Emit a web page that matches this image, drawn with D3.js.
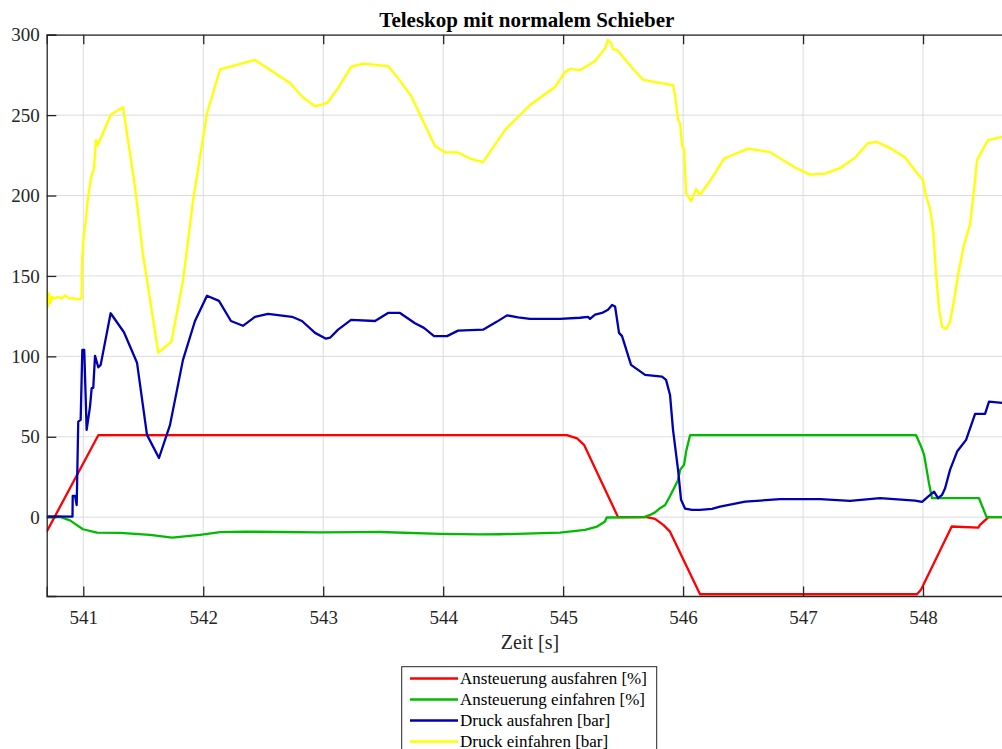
<!DOCTYPE html>
<html>
<head>
<meta charset="utf-8">
<script src="https://cdn.jsdelivr.net/npm/d3@7"></script>
<style>
  html, body { margin: 0; padding: 0; background: #fff; }
  svg { display: block; }
  svg text { font-family: "Liberation Serif", "Times New Roman", serif !important; }
</style>
</head>
<body>
<svg id="chart" width="1002" height="749"></svg>
<script>
// Zeitachse und Achsbeschriftungen
const xTicks = [541, 542, 543, 544, 545, 546, 547, 548];
const yTicks = [0, 50, 100, 150, 200, 250, 300];
const xDomain = [540.695, 548.7];
const yDomain = [-49, 300];

// Ansteuerung ausfahren [%]
const ausT = [540.695, 541.125, 545.032, 545.116, 545.174, 545.458, 545.697, 545.766, 545.835, 545.891, 546.141, 547.95, 547.984, 548.239, 548.461, 548.475, 548.53, 548.545, 548.7];
const ausV = [-9, 51, 51, 49, 45, 0, 0, -1, -4.8, -9, -47.9, -47.9, -45, -5.8, -6.5, -4.8, -1, 0, 0];

// Ansteuerung einfahren [%]
const einT = [540.695, 540.806, 540.889, 540.997, 541.114, 541.306, 541.556, 541.74, 541.973, 542.14, 542.348, 542.64, 542.973, 543.307, 543.474, 543.974, 544.307, 544.474, 544.974, 545.182, 545.283, 545.349, 545.363, 545.674, 545.725, 545.766, 545.808, 545.85, 545.891, 545.924, 545.958, 545.975, 546.008, 546.025, 546.058, 547.942, 547.984, 548.009, 548.05, 548.075, 548.467, 548.53, 548.7];
const einV = [0, 0.2, -2, -7.5, -9.6, -9.8, -11, -12.7, -11, -9.3, -9, -9.2, -9.5, -9.3, -9.2, -10.4, -10.7, -10.6, -9.6, -7.9, -5.8, -2.7, -0.2, 0, 1.4, 3, 5.6, 7.6, 13.2, 18, 23.2, 29.4, 32.6, 40.8, 51, 51, 43.9, 38.7, 21, 11.8, 11.8, 0, 0];

// Druck ausfahren [bar]
const druckAusT = [540.695, 540.91, 540.912, 540.931, 540.945, 540.958, 540.978, 540.992, 541.008, 541.028, 541.056, 541.07, 541.083, 541.098, 541.125, 541.145, 541.228, 541.339, 541.448, 541.531, 541.631, 541.723, 541.831, 541.931, 542.031, 542.131, 542.231, 542.331, 542.431, 542.54, 542.74, 542.823, 542.932, 543.023, 543.057, 543.124, 543.232, 543.432, 543.54, 543.64, 543.765, 543.84, 543.924, 544.032, 544.124, 544.332, 544.449, 544.532, 544.624, 544.724, 544.974, 545.141, 545.207, 545.224, 545.266, 545.324, 545.374, 545.408, 545.433, 545.466, 545.491, 545.566, 545.683, 545.824, 545.858, 545.891, 545.916, 545.958, 545.983, 546.016, 546.074, 546.141, 546.241, 546.308, 546.517, 546.808, 547.142, 547.392, 547.642, 547.934, 547.992, 548.042, 548.092, 548.125, 548.159, 548.184, 548.225, 548.284, 548.359, 548.434, 548.517, 548.55, 548.7];
const druckAusV = [0.5, 0.3, 13.3, 13.3, 7.6, 59.4, 60.5, 104, 104, 54.3, 68.8, 80.2, 80.4, 100.3, 93.2, 94.7, 126.8, 115, 96, 51.2, 36.8, 57.4, 97.8, 122, 137.7, 134.5, 122, 119, 124.6, 126.4, 124.6, 122, 114.6, 111, 111.6, 116.6, 122.7, 122, 127, 127, 120.6, 117.7, 112.6, 112.6, 116, 116.6, 121.6, 125.5, 124.3, 123.3, 123.3, 124, 124.6, 123.3, 126, 127, 129, 132, 131, 114.6, 112.6, 94.7, 88.5, 87.4, 85.4, 76, 54.3, 29.4, 10.8, 5.4, 4.5, 4.5, 5.2, 6.6, 9.7, 11.2, 11.2, 10.1, 11.8, 10.3, 9.5, 12.8, 15.9, 11.8, 13.9, 18, 29.4, 40.8, 48.1, 64.2, 64.2, 71.9, 70.8];

// Druck einfahren [bar]
const druckEinT = [540.695, 540.70, 540.705, 540.715, 540.725, 540.74, 540.76, 540.79, 540.82, 540.85, 540.88, 540.92, 540.96, 540.985, 540.99, 541.006, 541.022, 541.039, 541.064, 541.089, 541.106, 541.122, 541.139, 541.231, 541.331, 541.431, 541.498, 541.531, 541.625, 541.735, 541.832, 541.915, 542.031, 542.14, 542.431, 542.723, 542.832, 542.932, 543.032, 543.124, 543.232, 543.332, 543.54, 543.624, 543.732, 543.932, 544.016, 544.124, 544.224, 544.332, 544.516, 544.724, 544.932, 545.016, 545.058, 545.141, 545.199, 545.266, 545.349, 545.374, 545.399, 545.416, 545.449, 545.474, 545.583, 545.666, 545.766, 545.808, 545.916, 545.933, 545.958, 545.975, 545.991, 546.008, 546.025, 546.066, 546.108, 546.141, 546.233, 546.341, 546.541, 546.725, 546.933, 547.058, 547.183, 547.308, 547.434, 547.542, 547.617, 547.725, 547.85, 547.95, 548.0, 548.025, 548.059, 548.084, 548.109, 548.134, 548.159, 548.192, 548.225, 548.259, 548.292, 548.342, 548.392, 548.434, 548.45, 548.542, 548.659, 548.7];
const druckEinV = [133, 140, 131, 139, 133, 137, 136, 137, 136, 138, 136, 136, 135.5, 136, 160, 176.5, 185, 198.5, 211, 217, 234.5, 231.5, 234.5, 250.4, 254.9, 205.4, 163, 147.5, 102.3, 109.2, 147.5, 197, 251, 278.5, 284.3, 270, 261, 255.5, 257.5, 266.8, 280, 282, 280.5, 273, 262, 230.8, 226.8, 226.8, 223, 220.8, 240.8, 256.3, 267.5, 276.8, 278.7, 278, 280.5, 283.6, 291.5, 296.7, 295, 291, 290.5, 288.5, 278.7, 272, 270.5, 270, 268.7, 262, 247, 245, 231, 229, 201.5, 196.5, 204, 200.5, 210, 223, 229.2, 227, 217.4, 213, 213.6, 217, 223.6, 232.6, 233.3, 229.5, 223.6, 214, 209.6, 199.7, 191.7, 178.8, 150.7, 129, 118.3, 117, 121.5, 135, 150.7, 169.5, 182, 209.6, 222, 234.5, 236.5, 238];

const seriesNames = ["Ansteuerung ausfahren [%]", "Ansteuerung einfahren [%]", "Druck ausfahren [bar]", "Druck einfahren [bar]"];
const seriesColors = ["#ff0000", "#00bb00", "#0000b4", "#ffff00"];
const seriesData = [[ausT, ausV], [einT, einV], [druckAusT, druckAusV], [druckEinT, druckEinV]];

const svg = d3.select("#chart");
const plot = { left: 46.7, top: 34.7, right: 1007, bottom: 596 };

const x = d3.scaleLinear().domain(xDomain).range([plot.left, plot.right]);
const y = d3.scaleLinear().domain(yDomain).range([plot.bottom, plot.top]);

const axisColor = "#262626";
const serif = "'Liberation Serif', 'Times New Roman', serif";
const tickLen = 9.6;

// Gitternetz
const grid = svg.append("g");
grid.selectAll("line.vx").data(xTicks).join("line")
  .attr("x1", d => x(d)).attr("x2", d => x(d))
  .attr("y1", plot.top).attr("y2", plot.bottom)
  .attr("stroke", "#dcdcdc").attr("stroke-width", 1);
grid.selectAll("line.hy").data(yTicks).join("line")
  .attr("x1", plot.left).attr("x2", plot.right)
  .attr("y1", d => y(d)).attr("y2", d => y(d))
  .attr("stroke", "#dcdcdc").attr("stroke-width", 1);

// Messkurven
svg.append("clipPath").attr("id", "plotclip")
  .append("rect").attr("x", plot.left).attr("y", plot.top)
  .attr("width", plot.right - plot.left).attr("height", plot.bottom - plot.top);

const line = d3.line().x(d => x(d[0])).y(d => y(d[1]));
const curves = svg.append("g").attr("clip-path", "url(#plotclip)");
seriesData.forEach((s, i) => {
  const pts = s[0].map((t, k) => [t, s[1][k]]);
  curves.append("path").datum(pts)
    .attr("d", line)
    .attr("fill", "none")
    .attr("stroke", seriesColors[i])
    .attr("stroke-width", 2.3)
    .attr("stroke-linejoin", "round");
});

// Achsen
const fmt = d3.format("d");
const bottomAxis = d3.axisBottom(x).tickValues(xTicks).tickFormat(fmt).tickSize(-tickLen).tickPadding(15);
const topAxis = d3.axisTop(x).tickValues(xTicks).tickFormat("").tickSize(-tickLen);
const leftAxis = d3.axisLeft(y).tickValues(yTicks).tickFormat(fmt).tickSize(-tickLen).tickPadding(7);

function styleAxis(g) {
  g.attr("font-family", serif).attr("font-size", 19);
  g.select(".domain").attr("stroke", axisColor).attr("stroke-width", 1.3);
  g.selectAll(".tick line").attr("stroke", axisColor).attr("stroke-width", 1.3);
  g.selectAll(".tick text").attr("fill", axisColor);
}

svg.append("g").attr("transform", `translate(0,${plot.bottom})`).call(bottomAxis).call(styleAxis);
svg.append("g").attr("transform", `translate(0,${plot.top})`).call(topAxis).call(styleAxis);
svg.append("g").attr("transform", `translate(${plot.left},0)`).call(leftAxis).call(styleAxis);

// Titel und Achsentitel
svg.append("text")
  .attr("x", (plot.left + plot.right) / 2).attr("y", 27)
  .attr("text-anchor", "middle")
  .attr("font-family", serif)
  .attr("font-weight", "bold").attr("font-size", 21)
  .attr("fill", "#000")
  .text("Teleskop mit normalem Schieber");

svg.append("text")
  .attr("x", 530).attr("y", 649)
  .attr("text-anchor", "middle")
  .attr("font-family", serif)
  .attr("font-size", 20).attr("fill", axisColor)
  .text("Zeit [s]");

// Legende
const legend = svg.append("g").attr("font-family", serif);
legend.append("rect")
  .attr("x", 401.7).attr("y", 666.7).attr("width", 255).attr("height", 100)
  .attr("fill", "#fff").attr("stroke", axisColor).attr("stroke-width", 1);
seriesNames.forEach((name, i) => {
  const cy = 678.5 + i * 21;
  legend.append("line")
    .attr("x1", 410).attr("x2", 458).attr("y1", cy).attr("y2", cy)
    .attr("stroke", seriesColors[i]).attr("stroke-width", 2.3);
  legend.append("text")
    .attr("x", 460).attr("y", cy + 5.5)
    .attr("font-size", 17).attr("fill", "#000")
    .text(name);
});
</script>
</body>
</html>
